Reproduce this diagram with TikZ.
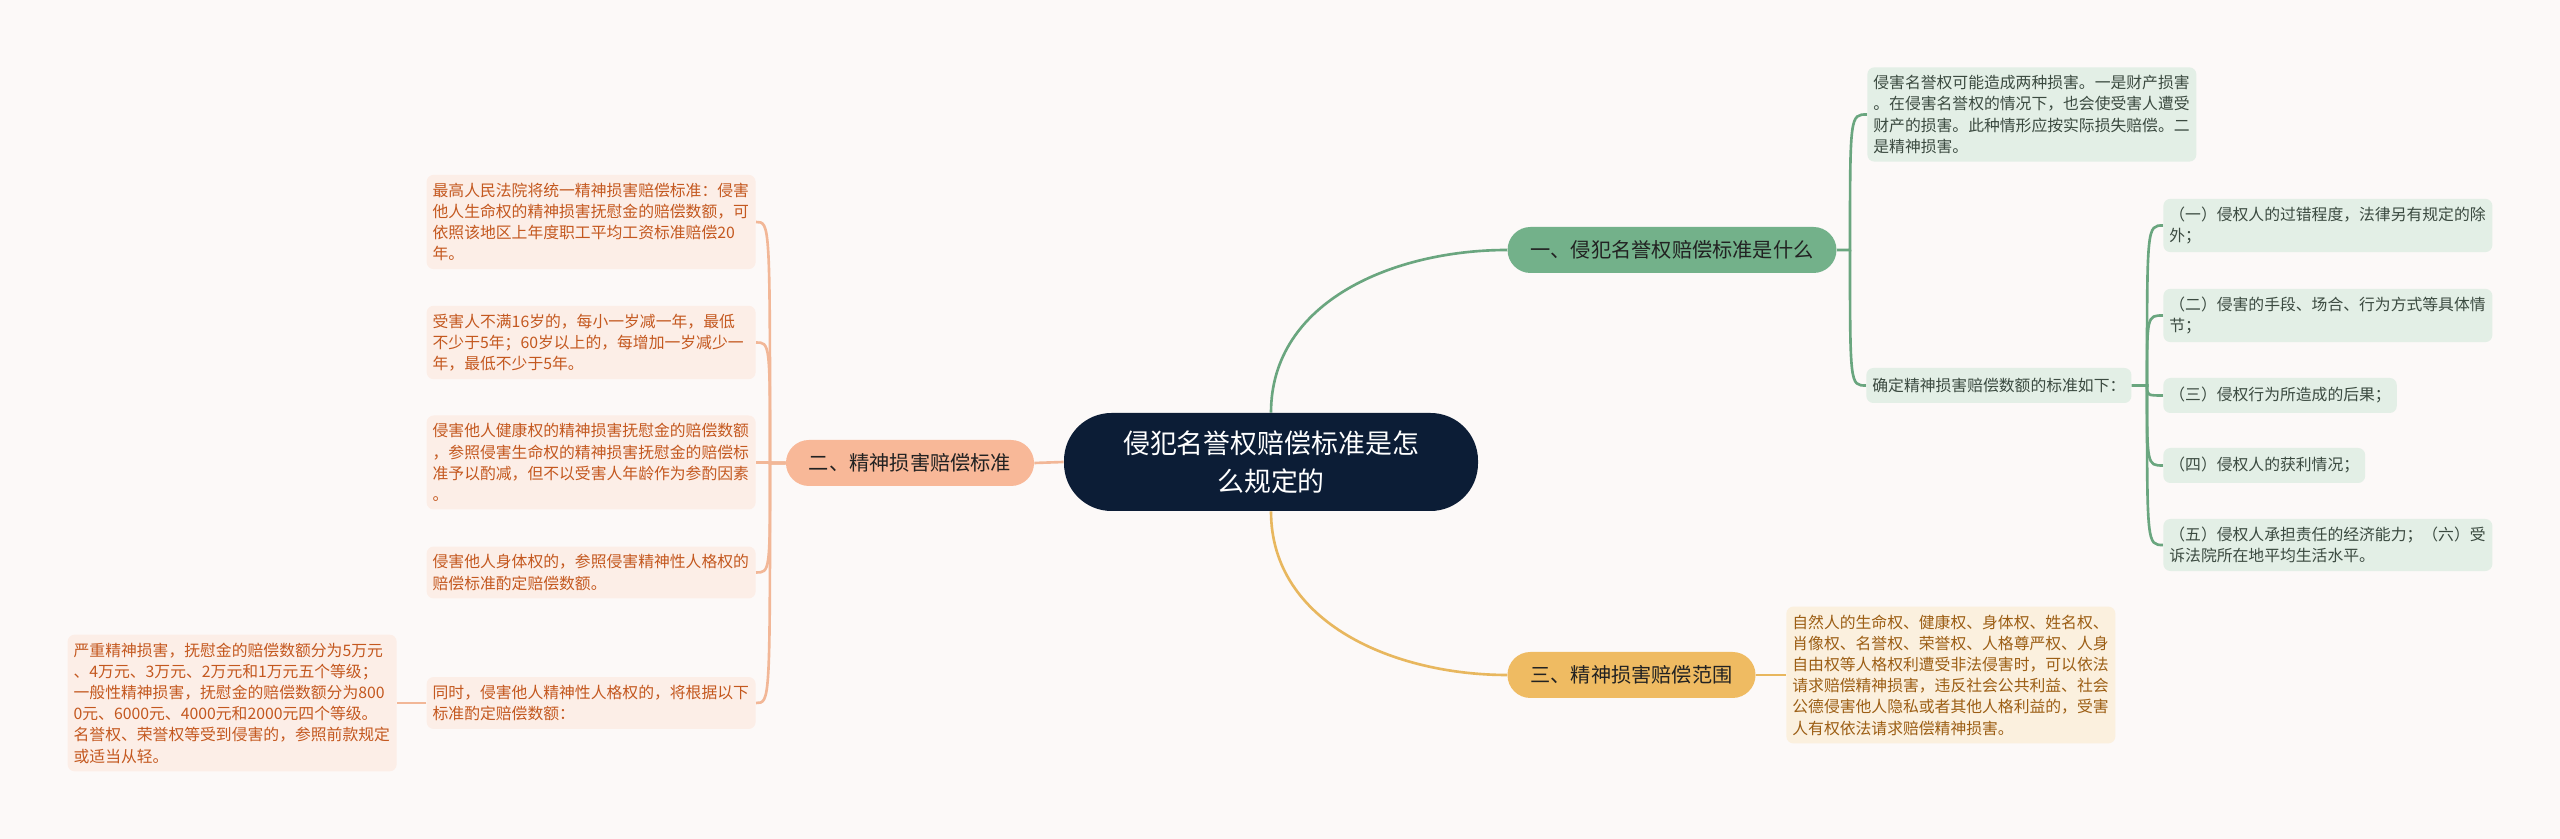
\documentclass[tikz,border=0pt]{standalone}
\usepackage{fontspec}
\setmainfont{Noto Sans CJK SC}
\usepackage{xcolor}
\definecolor{mapbg}{HTML}{FCF9F8}
\definecolor{rootnavy}{HTML}{0C1D36}
\definecolor{greenmain}{HTML}{73B18A}
\definecolor{greenline}{HTML}{6AA67F}
\definecolor{greenlight}{HTML}{E3EFE6}
\definecolor{greentext}{HTML}{3B4A40}
\definecolor{goldmain}{HTML}{EFBB62}
\definecolor{goldline}{HTML}{E8B75E}
\definecolor{goldlight}{HTML}{FBF0DE}
\definecolor{goldtext}{HTML}{9C5E14}
\definecolor{salmonmain}{HTML}{F8B898}
\definecolor{salmonline}{HTML}{F2B797}
\definecolor{salmonlight}{HTML}{FCEEE7}
\definecolor{salmontext}{HTML}{C4581F}
\definecolor{topicdark}{HTML}{222222}
\usepackage{tikz}
\usetikzlibrary{positioning, backgrounds}

\begin{document}
\begin{tikzpicture}[
  rootbox/.style={
    fill=rootnavy, text=white, align=center,
    minimum width=8.28cm, minimum height=1.96cm,
    rounded corners=0.95cm,
    font=\fontsize{15.3pt}{21.4pt}\selectfont
  },
  topicbox/.style={
    text=topicdark, inner xsep=0.46cm, inner ysep=0pt,
    minimum height=0.92cm, rounded corners=0.46cm,
    font=\fontsize{11.5pt}{14pt}\selectfont
  },
  leafbox/.style={
    inner xsep=0.12cm, inner ysep=0.16cm, align=left,
    rounded corners=4pt, minimum height=0.7cm,
    font=\fontsize{9pt}{12.06pt}\selectfont
  },
  wideleaf/.style={leafbox, text width=6.34cm},
  greenleaf/.style={fill=greenlight, text=greentext},
  goldleaf/.style={fill=goldlight, text=goldtext},
  salmonleaf/.style={fill=salmonlight, text=salmontext},
  link/.style={line width=1.5pt}
]
\useasboundingbox (0,0) rectangle (51.2,16.78);

% ---- CENTRE ----
\node[rootbox] (root) at (25.42, 7.54) {侵犯名誉权赔偿标准是怎\\么规定的};

% ---- BRANCHE 1 (droite, haut) ----
\node[topicbox, fill=greenmain] (gbr) at (33.44, 11.78) {一、侵犯名誉权赔偿标准是什么};
\node[wideleaf, greenleaf, anchor=west] (gl1) at (37.34, 14.49)
  {侵害名誉权可能造成两种损害。一是财产损害\\。在侵害名誉权的情况下，也会使受害人遭受\\财产的损害。此种情形应按实际损失赔偿。二\\是精神损害。};
\node[leafbox, greenleaf, anchor=west] (gmid) at (37.32, 9.07) {确定精神损害赔偿数额的标准如下：};

\node[wideleaf, greenleaf, anchor=west] (s1) at (43.26, 12.27) {（一）侵权人的过错程度，法律另有规定的除\\外；};
\node[wideleaf, greenleaf, anchor=west] (s2) at (43.26, 10.47) {（二）侵害的手段、场合、行为方式等具体情\\节；};
\node[leafbox, greenleaf, anchor=west]  (s3) at (43.26, 8.87)  {（三）侵权行为所造成的后果；};
\node[leafbox, greenleaf, anchor=west]  (s4) at (43.26, 7.47)  {（四）侵权人的获利情况；};
\node[wideleaf, greenleaf, anchor=west] (s5) at (43.26, 5.88)  {（五）侵权人承担责任的经济能力；（六）受\\诉法院所在地平均生活水平。};

% ---- BRANCHE 3 (droite, bas) ----
\node[topicbox, fill=goldmain] (ybr) at (32.63, 3.28) {三、精神损害赔偿范围};
\node[wideleaf, goldleaf, anchor=west] (yl) at (35.72, 3.28)
  {自然人的生命权、健康权、身体权、姓名权、\\肖像权、名誉权、荣誉权、人格尊严权、人身\\自由权等人格权利遭受非法侵害时，可以依法\\请求赔偿精神损害，违反社会公共利益、社会\\公德侵害他人隐私或者其他人格利益的，受害\\人有权依法请求赔偿精神损害。};

% ---- BRANCHE 2 (gauche) ----
\node[topicbox, fill=salmonmain] (sbr) at (18.20, 7.52) {二、精神损害赔偿标准};
\node[wideleaf, salmonleaf, anchor=east] (l1) at (15.12, 12.34)
  {最高人民法院将统一精神损害赔偿标准：侵害\\他人生命权的精神损害抚慰金的赔偿数额，可\\依照该地区上年度职工平均工资标准赔偿20\\年。};
\node[wideleaf, salmonleaf, anchor=east] (l2) at (15.12, 9.93)
  {受害人不满16岁的，每小一岁减一年，最低\\不少于5年；60岁以上的，每增加一岁减少一\\年，最低不少于5年。};
\node[wideleaf, salmonleaf, anchor=east] (l3) at (15.12, 7.53)
  {侵害他人健康权的精神损害抚慰金的赔偿数额\\，参照侵害生命权的精神损害抚慰金的赔偿标\\准予以酌减，但不以受害人年龄作为参酌因素\\。};
\node[wideleaf, salmonleaf, anchor=east] (l4) at (15.12, 5.33)
  {侵害他人身体权的，参照侵害精神性人格权的\\赔偿标准酌定赔偿数额。};
\node[wideleaf, salmonleaf, anchor=east] (l5) at (15.12, 2.72)
  {同时，侵害他人精神性人格权的，将根据以下\\标准酌定赔偿数额：};
\node[wideleaf, salmonleaf, anchor=east] (l6) at (7.94, 2.72)
  {严重精神损害，抚慰金的赔偿数额分为5万元\\、4万元、3万元、2万元和1万元五个等级；\\一般性精神损害，抚慰金的赔偿数额分为800\\0元、6000元、4000元和2000元四个等级。\\名誉权、荣誉权等受到侵害的，参照前款规定\\或适当从轻。};

% ---- Liens ----
\coordinate (gj) at (37.00, 11.78);
\coordinate (sj) at (42.94, 9.07);
\coordinate (lj) at (15.40, 7.52);

\begin{scope}[on background layer]
  \fill[mapbg] (0,0) rectangle (51.2,16.78);

  \draw[link, greenline] (root.north) to[out=90, in=180] (gbr.west);
  \draw[link, greenline] (gbr.east) -- (gj) .. controls (gj |- gl1.west) .. (gl1.west);
  \draw[link, greenline] (gj) .. controls (gj |- gmid.west) .. (gmid.west);
  \foreach \leaf in {s1, s2, s3, s4, s5}
    \draw[link, greenline] (gmid.east) -- (sj) .. controls (sj |- \leaf.west) .. (\leaf.west);

  \draw[link, goldline] (root.south) to[out=-90, in=180] (ybr.west);
  \draw[link, goldline] (ybr.east) -- (yl.west);

  \draw[link, salmonline] (root.west) -- (sbr.east);
  \foreach \leaf in {l1, l2, l3, l4, l5}
    \draw[link, salmonline] (sbr.west) -- (lj) .. controls (lj |- \leaf.east) .. (\leaf.east);
  \draw[link, salmonline] (l5.west) -- (l6.east);
\end{scope}

\end{tikzpicture}
\end{document}
